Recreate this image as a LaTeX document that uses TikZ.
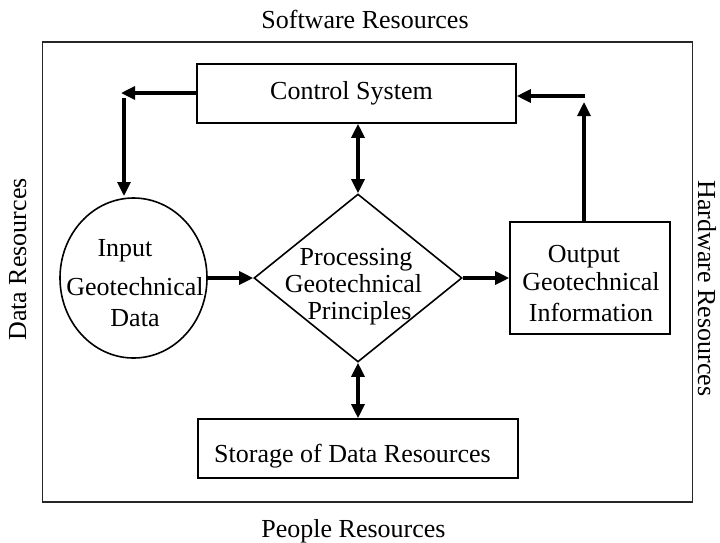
\documentclass[tikz,border=0pt]{standalone}
\usepackage{fontspec}
\setmainfont{Liberation Serif}
\usetikzlibrary{shapes.geometric,arrows.meta}
\begin{document}
\begin{tikzpicture}[x=1pt,y=-1pt,
  shp/.style={draw,line width=1.6pt,inner sep=0pt},
  lbl/.style={font=\fontsize{26}{30}\selectfont,inner sep=0pt,anchor=base},
  conn/.style={line width=3.2pt,-{Triangle[length=14pt,width=13pt]}},
  dconn/.style={line width=3.2pt,{Triangle[length=14pt,width=13pt]}-{Triangle[length=14pt,width=13pt]}}]
\useasboundingbox (0,0) rectangle (720,542);
% frame
\draw[line width=1.5pt,black!85] (42.5,42) rectangle (692.5,502);
\node[lbl] (sw) at (365,28) {Software Resources};
\node[lbl] (pe) at (353.5,537) {People Resources};
\node[lbl,rotate=90] (da) at (26,259.5) {Data Resources};
\node[lbl,rotate=-90] (hw) at (698,288.5) {Hardware Resources};
% shapes
\node[shp,rectangle,minimum width=319,minimum height=59] (ctrl) at (356.5,93.5) {};
\node[shp,ellipse,minimum width=147,minimum height=160] (inp) at (133.5,278) {};
\node[shp,diamond,minimum width=208,minimum height=168] (dia) at (358,278) {};
\node[shp,rectangle,minimum width=160,minimum height=112] (out) at (590,278) {};
\node[shp,rectangle,minimum width=320,minimum height=59] (sto) at (358,448.5) {};
% texts
\node[lbl] (t1) at (351.5,99) {Control System};
\node[lbl] (t2) at (125,256) {Input};
\node[lbl] (t3) at (135,295) {Geotechnical};
\node[lbl] (t4) at (135,326) {Data};
\node[lbl] (t5) at (356,265) {Processing};
\node[lbl] (t6) at (353.5,292) {Geotechnical};
\node[lbl] (t7) at (359.5,319) {Principles};
\node[lbl] (t8) at (584,262) {Output};
\node[lbl] (t9) at (591,290) {Geotechnical};
\node[lbl] (t10) at (591,321) {Information};
\node[lbl] (t11) at (352.5,462) {Storage of Data Resources};
% connectors
\coordinate (c1) at (121,93);
\coordinate (c2) at (124,98);
\coordinate (c3) at (584,102);
\coordinate (c4) at (585,96);
\coordinate (c5) at (584,222);
\draw[conn] (ctrl.west |- c1) -- (c1);
\draw[conn] (c2) -- (124,196);
\draw[dconn] (dia.north |- ctrl.south) -- (dia.north);
\draw[conn] (inp.east) -- (dia.west);
\draw[conn] (dia.east) -- (out.west);
\draw[conn] (c5) -- (c3);
\draw[conn] (c4) -- (c4 -| ctrl.east);
\draw[dconn] (dia.south) -- (dia.south |- sto.north);
\end{tikzpicture}
\end{document}
